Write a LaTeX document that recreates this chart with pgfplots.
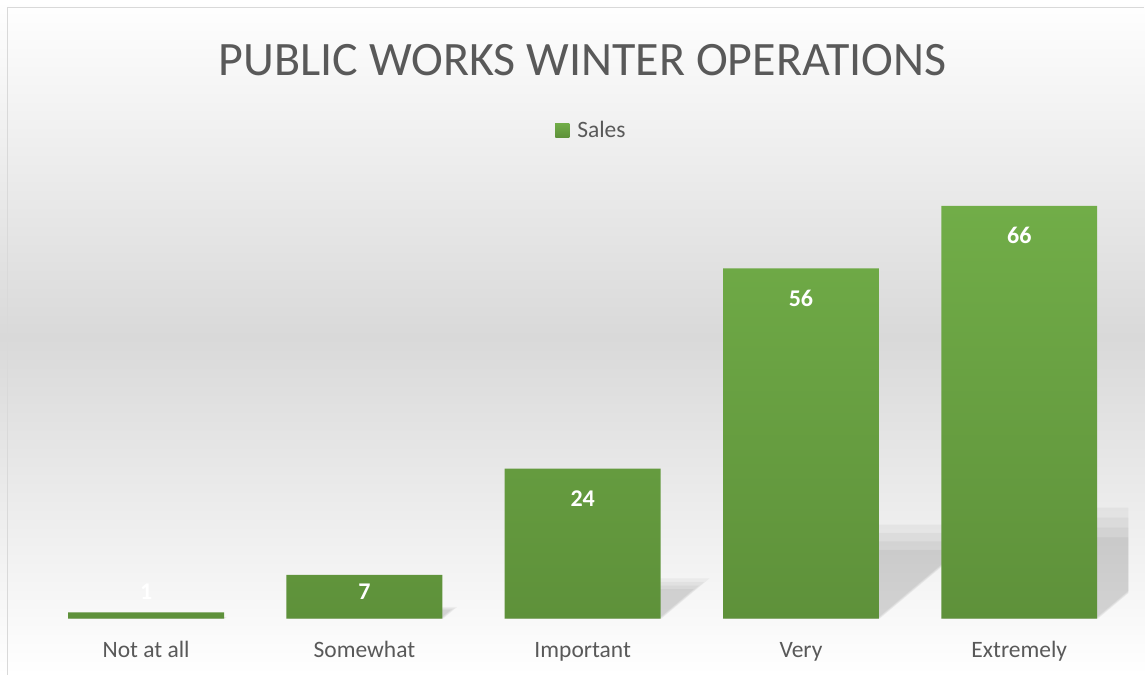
\documentclass[border=0pt]{standalone}
\usepackage{pgfplots}
\usepackage{pgfplotstable}
\pgfplotsset{compat=1.18}
\usepackage{fontspec}
\setmainfont{Carlito}
\definecolor{txt}{HTML}{595959}
\definecolor{gtop}{HTML}{71AD48}
\definecolor{gbot}{HTML}{5E913A}
\definecolor{bgmid}{HTML}{D9D9D9}
\pgfplotstableread{
x y
0 1
1 7
2 24
3 56
4 66
}\data
\begin{document}
\begin{tikzpicture}[x=1pt,y=1pt]
\shade[top color=white, bottom color=white, middle color=bgmid] (0,0) rectangle (1145,675);
\draw[color=bgmid, line width=1.2pt] (7.5,0) -- (7.5,667.5) -- (1145,667.5);
\useasboundingbox (0,0) rectangle (1145,675);
\begin{axis}[
  at={(37pt,56pt)}, anchor=south west,
  scale only axis, width=1092pt, height=438pt,
  xmin=-0.5, xmax=4.5, ymin=0, ymax=70,
  axis line style={draw=none}, tick style={draw=none},
  ytick=\empty, xtick=data,
  xticklabels={Not at all, Somewhat, Important, Very, Extremely},
  x tick label style={anchor=base, yshift=-35pt, font=\fontsize{23.5}{28}\selectfont, text=txt},
  ybar, bar width=156pt,
  title={PUBLIC WORKS WINTER OPERATIONS},
  title style={at={(axis description cs:0.5,1.2625)}, anchor=center, font=\fontsize{48}{56}\selectfont, text=txt},
  legend style={at={(axis description cs:0.508,1.116)}, anchor=center, draw=none, fill=none, font=\fontsize{23.5}{28}\selectfont, text=txt, inner sep=0pt},
  legend image code/.code={\path (0pt,0pt) -- (20pt,0pt); \fill[gtop] (0pt,-7pt) rectangle (14pt,7pt);},
  nodes near coords, point meta=y,
  /pgf/number format/assume math mode=true,
  visualization depends on={y \as \rawy},
  every node near coord/.append style={anchor=base, text=white, font=\fontsize{24}{28}\selectfont\bfseries,
     yshift={\rawy<3 ? 13 : (\rawy<10 ? -25 : -38)}},
]
\pgfplotsinvokeforeach{0,...,4}{
  \pgfplotstablegetelem{#1}{y}\of\data
  \let\v\pgfplotsretval
  \foreach \f/\w in {0.82/0.010, 0.92/0.005, 1.02/0.0, 1.12/-0.004}{
    \pgfmathsetmacro\h{0.24*\v*\f}
    \pgfmathsetmacro\dx{0.0082*\v*\f}
    \pgfmathsetmacro\xl{#1-0.357+\w}
    \pgfmathsetmacro\xr{#1+0.357-\w}
    \edef\temp{\noexpand\fill[black, opacity=0.038]
      (axis cs:\xl,0) -- (axis cs:\xr,0) -- (axis cs:\xr+\dx,\h) -- (axis cs:\xl+\dx,\h) -- cycle;}
    \temp
  }
}
\addplot[draw=none, top color=gtop, bottom color=gbot] table[x=x, y=y] {\data};
\addlegendentry{Sales}
\end{axis}
\end{tikzpicture}
\end{document}
